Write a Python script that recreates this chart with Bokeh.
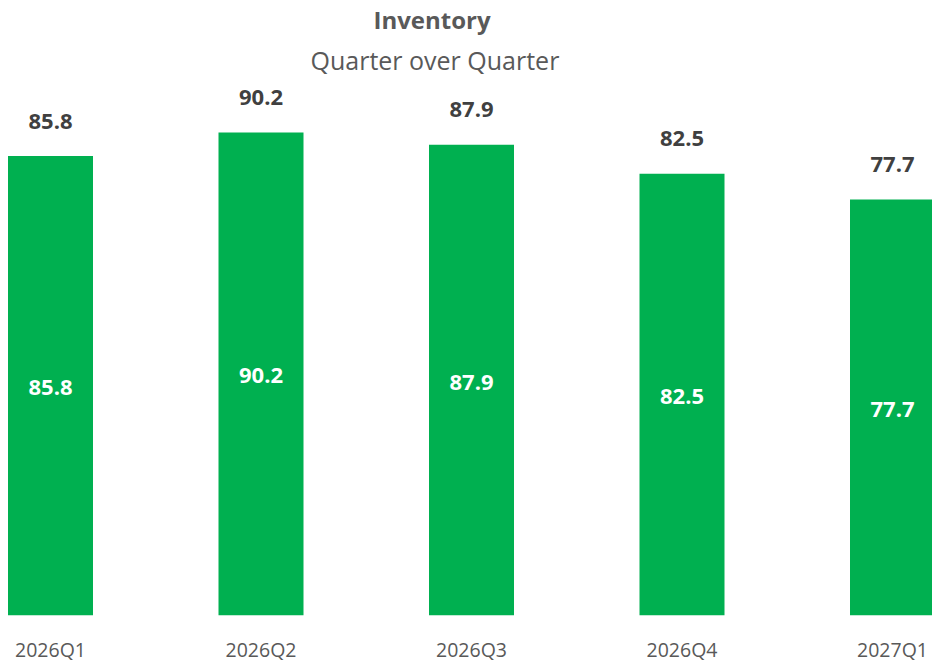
from bokeh.plotting import figure
from bokeh.models import Range1d, FixedTicker, Title, ColumnDataSource
from bokeh.core.properties import value
from bokeh.embed import file_html
from bokeh.resources import INLINE

categories = ["2026Q1", "2026Q2", "2026Q3", "2026Q4", "2027Q1"]
inventory = [85.8, 90.2, 87.9, 82.5, 77.7]

W, H = 932, 665
px_per_cat = 210.5
left_pad_px = 50
px_per_unit = 5.375
frame_bottom_border = 48
frame_top_border = 81

x_idx = list(range(len(categories)))
src = ColumnDataSource(dict(
    x=x_idx,
    top=inventory,
    mid=[v / 2 for v in inventory],
    label=[f"{v:.1f}" for v in inventory],
))

x_start = -left_pad_px / px_per_cat
x_end = x_start + W / px_per_cat

p = figure(width=W, height=H, output_backend="svg", toolbar_location=None,
           x_range=Range1d(x_start, x_end), min_border_left=0, min_border_right=0,
           min_border_bottom=frame_bottom_border, min_border_top=frame_top_border)

p.title.text = "Inventory"
p.title.text_font = "Open Sans"
p.title.text_font_size = "24px"
p.title.text_font_style = "bold"
p.title.text_color = "#595959"
p.title.align = "left"
p.title.offset = 373
p.title.standoff = 0
sub = Title(text="Quarter over Quarter", align="left", offset=310, text_font="Open Sans",
            text_font_size="25px", text_font_style="normal", text_color="#595959",
            standoff=10)
p.add_layout(sub, "above")

frame_h = H - frame_bottom_border - frame_top_border
p.y_range = Range1d(0, frame_h / px_per_unit)

p.vbar(x="x", top="top", width=85 / px_per_cat, bottom=0, source=src,
       fill_color="#00B050", line_color=None)

p.text(x="x", y="top", text="label", source=src, y_offset=-35,
       text_align="center", text_baseline="middle",
       text_font=value("Open Sans"), text_font_size="22px", text_font_style="bold",
       text_color="#404040")
p.text(x="x", y="mid", text="label", source=src, y_offset=2,
       text_align="center", text_baseline="middle",
       text_font=value("Open Sans"), text_font_size="22px", text_font_style="bold",
       text_color="#FFFFFF")

p.xaxis.ticker = FixedTicker(ticks=x_idx)
p.xaxis.major_label_overrides = {i: c for i, c in enumerate(categories)}
p.xaxis.axis_line_color = None
p.xaxis.major_tick_line_color = None
p.xaxis.minor_tick_line_color = None
p.xaxis.major_tick_out = 0
p.xaxis.major_label_standoff = 20
p.xaxis.major_label_text_font = "Open Sans"
p.xaxis.major_label_text_font_size = "19.5px"
p.xaxis.major_label_text_color = "#595959"
p.yaxis.visible = False
p.xgrid.grid_line_color = None
p.ygrid.grid_line_color = None
p.outline_line_color = None
p.background_fill_color = "white"
p.border_fill_color = "white"

open("out.html", "w").write(file_html(p, INLINE))
